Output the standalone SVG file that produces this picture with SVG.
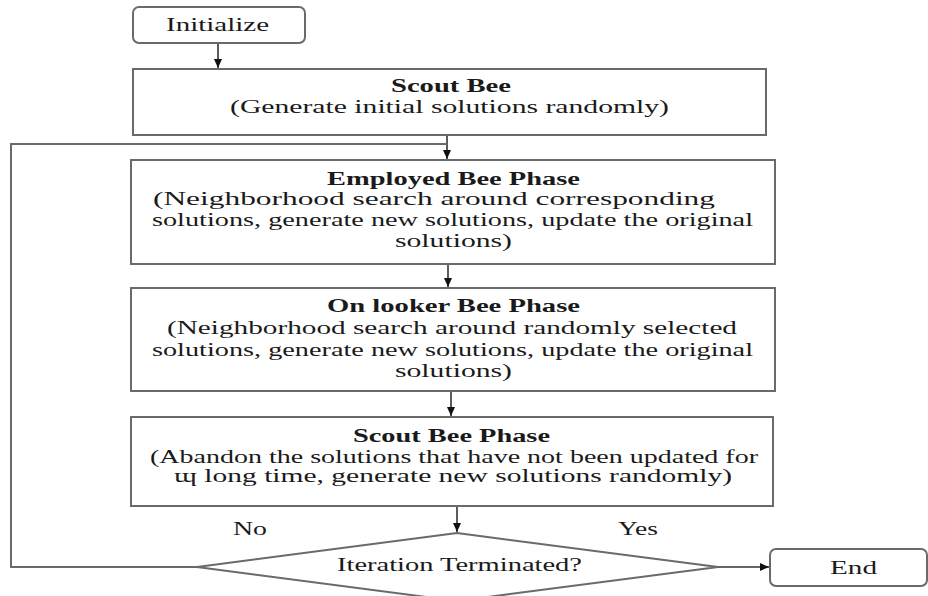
<svg xmlns="http://www.w3.org/2000/svg" width="928" height="596" viewBox="0 0 928 596">
<style>
.box{fill:#fff;stroke:#6a6a6a;stroke-width:2}
.t{font-family:"Liberation Serif","Times New Roman",serif;font-size:18px;fill:#1a1a1a}
.b{font-weight:bold}
.ln{fill:none;stroke:#333;stroke-width:1.6}
.fb{fill:none;stroke:#6a6a6a;stroke-width:2}
</style>
<defs>
<marker id="ah" markerWidth="10" markerHeight="10" refX="9" refY="5" orient="auto" markerUnits="userSpaceOnUse">
<path d="M0,1 L9,5 L0,9 Z" fill="#111"/>
</marker>
</defs>
<rect width="928" height="596" fill="#fff"/>
<g id="connectors">
<line class="ln" x1="218" y1="43" x2="218" y2="68" marker-end="url(#ah)"/>
<line class="ln" x1="447" y1="135" x2="447" y2="159" marker-end="url(#ah)"/>
<polyline class="fb" points="197,567 11,567 11,144 447,144"/>
<line class="ln" x1="448" y1="264" x2="448" y2="287" marker-end="url(#ah)"/>
<line class="ln" x1="451" y1="391" x2="451" y2="416" marker-end="url(#ah)"/>
<line class="ln" x1="457" y1="506" x2="457" y2="532" marker-end="url(#ah)"/>
<line class="ln" x1="718" y1="567" x2="769" y2="567" marker-end="url(#ah)"/>
<text class="t" x="233" y="535" textLength="34" lengthAdjust="spacingAndGlyphs">No</text>
<text class="t" x="618" y="535" textLength="40" lengthAdjust="spacingAndGlyphs">Yes</text>
</g>
<g id="initialize">
<rect class="box" x="133" y="7" width="172" height="36" rx="6"/>
<text class="t" x="166" y="31" textLength="103" lengthAdjust="spacingAndGlyphs">Initialize</text>
</g>
<g id="scout-bee">
<rect class="box" x="133" y="69" width="633" height="66"/>
<text class="t b" x="391" y="92" textLength="120" lengthAdjust="spacingAndGlyphs">Scout Bee</text>
<text class="t" x="230" y="113" textLength="439" lengthAdjust="spacingAndGlyphs">(Generate initial solutions randomly)</text>
</g>
<g id="employed">
<rect class="box" x="131" y="160" width="644" height="104"/>
<text class="t b" x="327" y="185" textLength="253" lengthAdjust="spacingAndGlyphs">Employed Bee Phase</text>
<text class="t" x="153" y="205" textLength="562" lengthAdjust="spacingAndGlyphs">(Neighborhood search around corresponding</text>
<text class="t" x="152" y="226" textLength="601" lengthAdjust="spacingAndGlyphs">solutions, generate new solutions, update the original</text>
<text class="t" x="395" y="247" textLength="117" lengthAdjust="spacingAndGlyphs">solutions)</text>
</g>
<g id="onlooker">
<rect class="box" x="131" y="288" width="644" height="103"/>
<text class="t b" x="327" y="312" textLength="253" lengthAdjust="spacingAndGlyphs">On looker Bee Phase</text>
<text class="t" x="167" y="334" textLength="570" lengthAdjust="spacingAndGlyphs">(Neighborhood search around randomly selected</text>
<text class="t" x="152" y="356" textLength="601" lengthAdjust="spacingAndGlyphs">solutions, generate new solutions, update the original</text>
<text class="t" x="395" y="377" textLength="117" lengthAdjust="spacingAndGlyphs">solutions)</text>
</g>
<g id="scout-phase">
<rect class="box" x="131" y="417" width="642" height="89"/>
<text class="t b" x="353" y="442" textLength="197" lengthAdjust="spacingAndGlyphs">Scout Bee Phase</text>
<text class="t" x="150" y="463" textLength="608" lengthAdjust="spacingAndGlyphs">(Abandon the solutions that have not been updated for</text>
<text class="t" x="174" y="482" textLength="558" lengthAdjust="spacingAndGlyphs">ɰ long time, generate new solutions randomly)</text>
</g>
<g id="decision">
<polygon class="box" points="457,533 718,567 457,601 197,567"/>
<text class="t" x="337" y="571" textLength="245" lengthAdjust="spacingAndGlyphs">Iteration Terminated?</text>
</g>
<g id="end">
<rect class="box" x="770" y="549" width="157" height="37" rx="6"/>
<text class="t" x="830" y="574" textLength="47" lengthAdjust="spacingAndGlyphs">End</text>
</g>
</svg>
